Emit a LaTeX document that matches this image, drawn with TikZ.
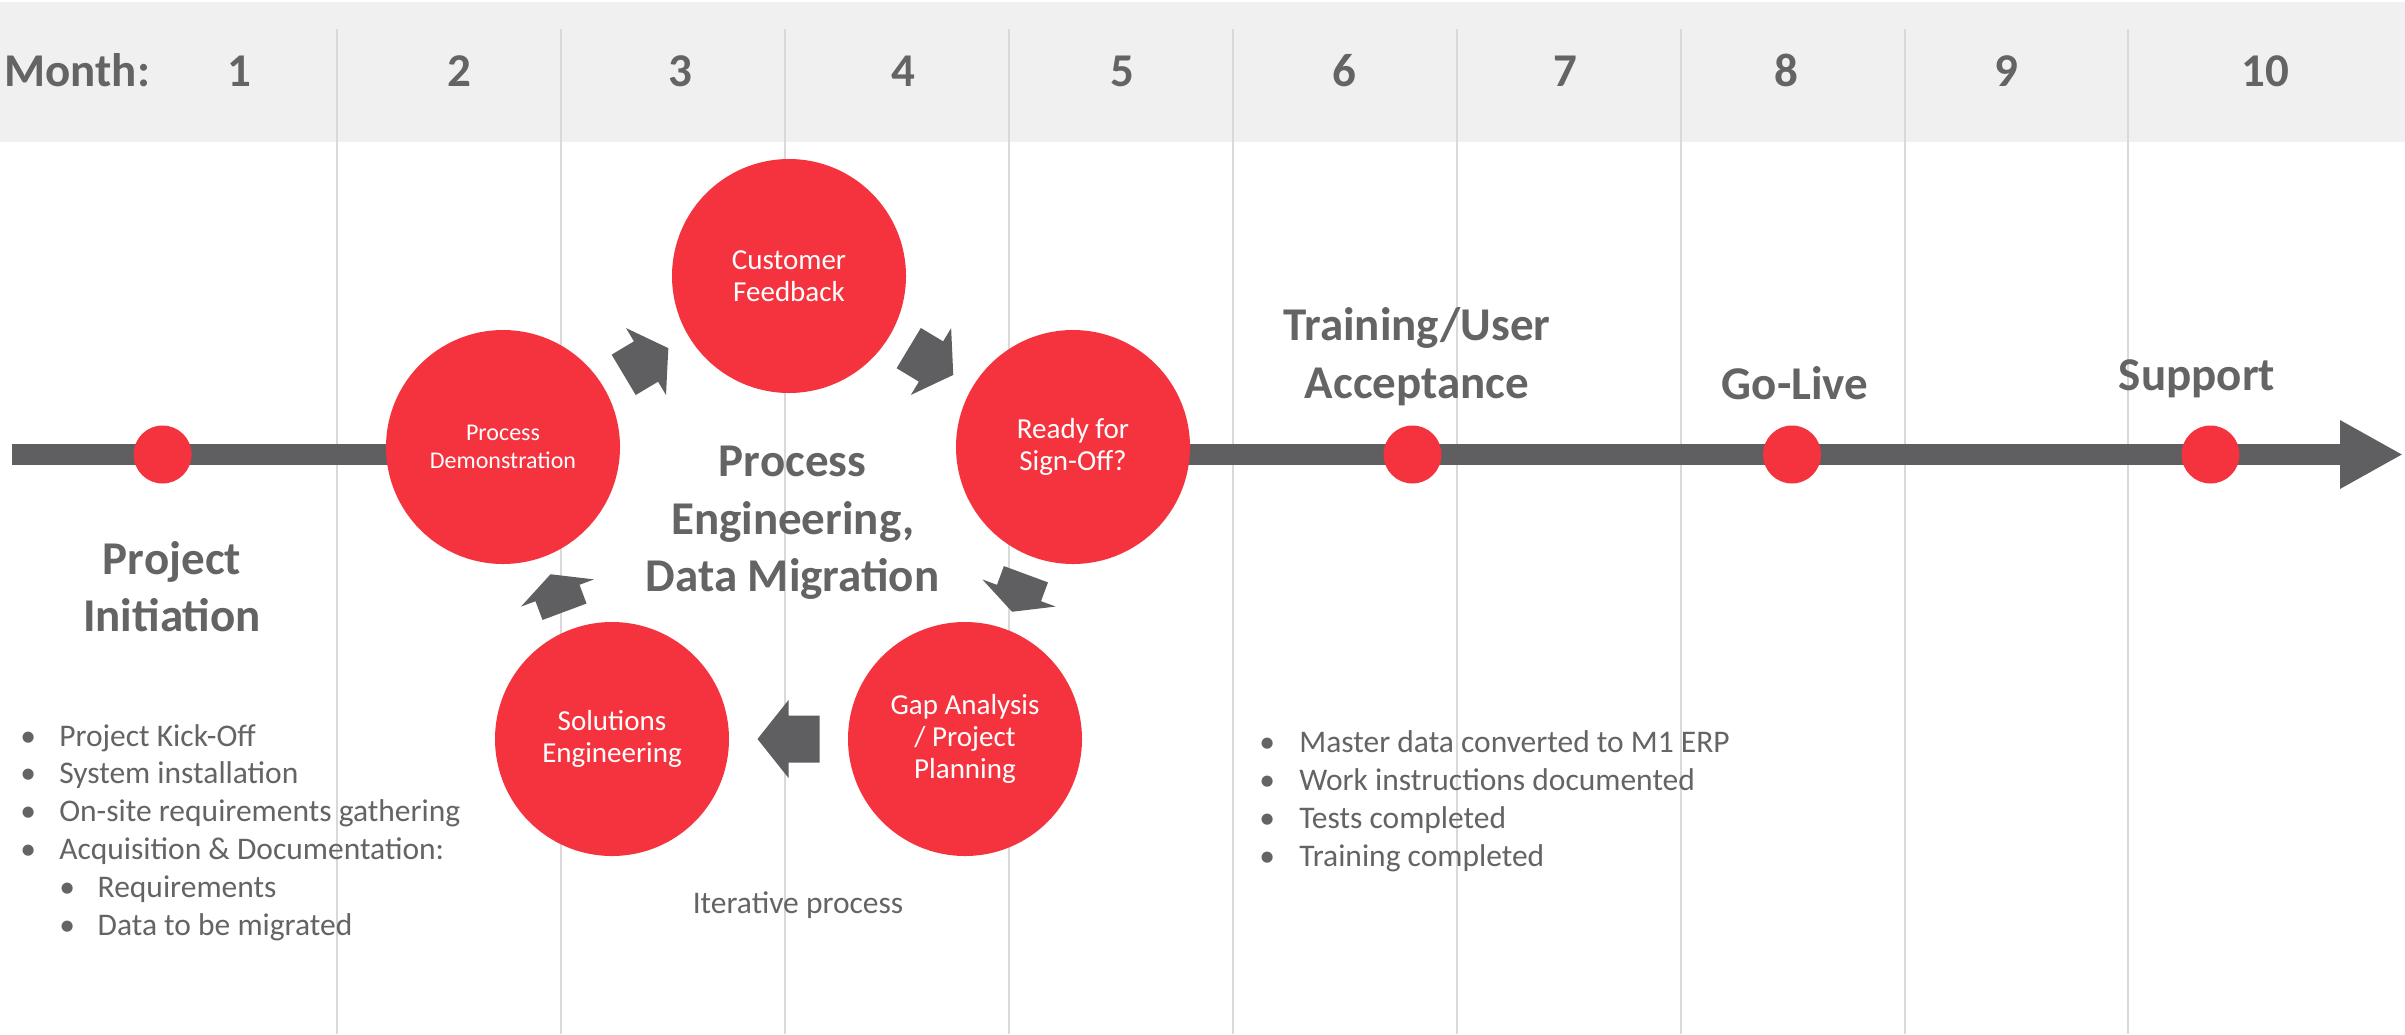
\documentclass[tikz,border=0pt]{standalone}
\usepackage{fontspec}
\setmainfont{Carlito}
\usetikzlibrary{calc,arrows.meta}
\definecolor{tlred}{HTML}{F5333F}
\definecolor{tlgray}{HTML}{5F5E61}
\definecolor{txtgray}{HTML}{646464}
\definecolor{bandgray}{HTML}{F0F0F0}
\definecolor{gridgray}{HTML}{D9D9D9}
% block arrow between two circle nodes: #1 from, #2 to, #3 half length
\newcommand\cyclearrow[3]{%
  \coordinate (ca-m) at ($(#1.center)!0.5!(#2.center)$);
  \coordinate (ca-t) at ($(ca-m)!#3!(#2.center)$);
  \coordinate (ca-b) at ($(ca-m)!#3!180:(#2.center)$);
  \fill[cyc] (ca-t) -- ($(ca-m)!19.5pt!90:(#2.center)$) -- ($(ca-m)!11.75pt!90:(#2.center)$)
    -- ($(ca-b)!11.75pt!90:(#2.center)$) -- ($(ca-b)!11.75pt!-90:(#2.center)$)
    -- ($(ca-m)!11.75pt!-90:(#2.center)$) -- ($(ca-m)!19.5pt!-90:(#2.center)$) -- cycle;
}
\begin{document}
\begin{tikzpicture}[x=0.5pt,y=-0.5pt,
  hdr/.style={font=\bfseries\fontsize{23.5}{28.75}\selectfont, text=txtgray, inner sep=0pt},
  head/.style={font=\bfseries\fontsize{23.5}{28.75}\selectfont, text=txtgray, inner sep=0pt, align=center},
  stage/.style={circle, fill=tlred, minimum size=117pt, inner sep=0pt, text=white, align=center,
    font=\fontsize{14.5}{15.85}\selectfont},
  dot/.style={circle, fill=tlred, minimum size=29pt, inner sep=0pt},
  body/.style={font=\fontsize{15.75}{18.9}\selectfont, text=txtgray, inner sep=0pt, align=left},
  vline/.style={gridgray, line width=1pt},
  cyc/.style={fill=tlgray},
  tlbar/.style={tlgray, line width=10.5pt},
]
\useasboundingbox (0,0) rectangle (2405,1034);
\fill[white] (0,0) rectangle (2405,1034);
% header band
\fill[bandgray] (0,2) rectangle (2405,142);
% month grid lines
\foreach \x in {337,561,785,1009,1233,1457,1681,1905,2128}
  \draw[vline] (\x,29) -- (\x,1034);
% month labels
\node[hdr, anchor=base west] (month) at (4,86) {Month:};
\foreach \x/\n in {239/1,459/2,680/3,903/4,1122/5,1344/6,1565/7,1786/8,2006/9,2265/10}
  \node[hdr, anchor=base] (m\n) at (\x,86) {\n};
% timeline (interrupted by the cycle; inner ends hidden under the circles)
\coordinate (tls) at (12,454.5);
\coordinate (tlm1) at (450,454.5);
\coordinate (tlm2) at (1125,454.5);
\coordinate (tle) at (2403,454.5);
\draw[tlbar] (tls) -- (tlm1);
\draw[tlbar, -{Triangle[length=31.5pt,width=32pt]}] (tlm2) -- (tle);
% milestone dots
\node[dot] (d1) at (162.6,454.5) {};
\node[dot] (d2) at (1412.5,454.5) {};
\node[dot] (d3) at (1792,454.5) {};
\node[dot] (d4) at (2210.5,454.5) {};
% cycle circles
\node[stage] (cf) at (789,276) {Customer\\Feedback};
\node[stage] (rs) at (1073,447) {Ready for\\Sign-Off?};
\node[stage] (ga) at (965,739) {Gap Analysis\\/ Project\\Planning};
\node[stage] (se) at (612,739) {Solutions\\Engineering};
\node[stage, font=\fontsize{12}{14.2}\selectfont] (pd) at (503,447) {Process\\Demonstration};
% cycle arrows
\cyclearrow{pd}{cf}{13pt}
\cyclearrow{cf}{rs}{13pt}
\cyclearrow{rs}{ga}{10pt}
\cyclearrow{ga}{se}{15.5pt}
\cyclearrow{se}{pd}{10pt}
% headings (base anchor = last line baseline)
\node[head, anchor=base] (pi) at (172,631.7) {Project\\Initiation};
\node[head, anchor=base] (pe) at (792.6,591.7) {Process\\Engineering,\\Data Migration};
\node[head, anchor=base] (tua) at (1417,398.3) {Training/User\\Acceptance};
\node[head, anchor=base] (gl) at (1795,399) {Go-Live};
\node[head, anchor=base] (sup) at (2197,390) {Support};
% bullet lists
\node[body, anchor=base west] (leftlist) at (20,935) {%
\makebox[19.45pt][l]{\textbullet}Project Kick-Off\\
\makebox[19.45pt][l]{\textbullet}System installation\\
\makebox[19.45pt][l]{\textbullet}On-site requirements gathering\\
\makebox[19.45pt][l]{\textbullet}Acquisition \& Documentation:\\
\hspace*{19.45pt}\makebox[19.2pt][l]{\textbullet}Requirements\\
\hspace*{19.45pt}\makebox[19.2pt][l]{\textbullet}Data to be migrated};
\node[body, anchor=base west] (rightlist) at (1259,866) {%
\makebox[20pt][l]{\textbullet}Master data converted to M1 ERP\\
\makebox[20pt][l]{\textbullet}Work instructions documented\\
\makebox[20pt][l]{\textbullet}Tests completed\\
\makebox[20pt][l]{\textbullet}Training completed};
\node[body, anchor=base] (iter) at (798,913.3) {Iterative process};
\end{tikzpicture}
\end{document}
